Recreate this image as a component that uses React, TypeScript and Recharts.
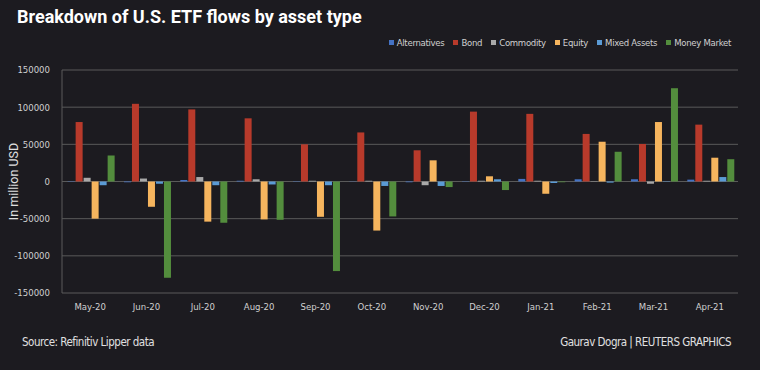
import React from 'react';
import { BarChart, Bar, CartesianGrid, XAxis, YAxis } from 'recharts';

const months = ['May-20', 'Jun-20', 'Jul-20', 'Aug-20', 'Sep-20', 'Oct-20', 'Nov-20', 'Dec-20', 'Jan-21', 'Feb-21', 'Mar-21', 'Apr-21'];

const alternatives = [-500, -1000, 2000, 1000, 500, 300, -1000, 500, 3500, 3000, 3000, 2500];
const bond = [80000, 104500, 97000, 85000, 50000, 66000, 42000, 94000, 91000, 64000, 50500, 76500];
const commodity = [5000, 4000, 6000, 3000, 1000, 1000, -5000, 1000, 1000, 500, -3000, 1000];
const equity = [-50000, -34000, -54000, -51000, -47500, -66000, 28500, 7000, -16500, 53500, 80000, 32000];
const mixedAssets = [-5000, -3000, -5000, -4000, -5000, -6000, -6000, 3000, -2000, -1500, 500, 6000];
const moneyMarket = [35000, -129500, -55500, -51500, -120500, -47000, -7500, -11500, -1000, 40000, 125500, 30000];

const yTicks = [-150000, -100000, -50000, 0, 50000, 100000, 150000];

const series = [
  { key: 'alternatives', name: 'Alternatives', color: '#4472c4' },
  { key: 'bond', name: 'Bond', color: '#b83a2b' },
  { key: 'commodity', name: 'Commodity', color: '#a9a9a9' },
  { key: 'equity', name: 'Equity', color: '#f6b55e' },
  { key: 'mixedAssets', name: 'Mixed Assets', color: '#5b9bd5' },
  { key: 'moneyMarket', name: 'Money Market', color: '#538d3d' },
];

const data = months.map((month, i) => ({
  month,
  alternatives: alternatives[i],
  bond: bond[i],
  commodity: commodity[i],
  equity: equity[i],
  mixedAssets: mixedAssets[i],
  moneyMarket: moneyMarket[i],
}));

const tickFont = "'DejaVu Sans Condensed', 'Roboto', sans-serif";
const textFont = "'Roboto', 'Noto Sans', sans-serif";

export default function App() {
  return (
    <div style={{ position: 'relative', width: 760, height: 370, background: '#1c1b20', overflow: 'hidden' }}>
      <style>{`body{margin:0}`}</style>
      <div style={{ position: 'absolute', left: 17, top: 6, color: '#ffffff', fontFamily: textFont, fontWeight: 700, fontSize: 18 }}>
        Breakdown of U.S. ETF flows by asset type
      </div>
      <div style={{ position: 'absolute', right: 29, top: 37, display: 'flex', fontFamily: tickFont, fontSize: 9.5, letterSpacing: -0.3, color: '#d0d0d0' }}>
        {series.map((s) => (
          <span key={s.key} style={{ display: 'flex', alignItems: 'center', marginLeft: 9 }}>
            <span style={{ width: 5, height: 5, background: s.color, marginRight: 3, display: 'inline-block' }} />
            {s.name}
          </span>
        ))}
      </div>
      <BarChart
        width={760}
        height={370}
        data={data}
        margin={{ top: 70, right: 22, bottom: 47, left: 12 }}
        barCategoryGap="10%"
        barGap={1}
        style={{ position: 'absolute', left: 0, top: 0 }}
      >
        <CartesianGrid vertical={false} stroke="#5a5a5a" yAxisId="left" />
        <XAxis
          dataKey="month"
          axisLine={false}
          tickLine={false}
          tickMargin={4}
          interval={0}
          tick={{ fill: '#d0d0d0', fontSize: 9.5, fontFamily: tickFont }}
        />
        <YAxis
          yAxisId="left"
          domain={[-150000, 150000]}
          ticks={yTicks}
          width={50}
          axisLine={{ stroke: '#5a5a5a' }}
          tickLine={false}
          tickMargin={6}
          tick={{ fill: '#d0d0d0', fontSize: 9.5, fontFamily: tickFont }}
          label={{ value: 'In million USD', angle: -90, position: 'insideLeft', offset: 2, fill: '#e0e0e0', fontSize: 12.5, fontFamily: textFont, style: { textAnchor: 'middle' } }}
        />
        <YAxis yAxisId="right" orientation="right" domain={[-150000, 150000]} width={0} tick={false} tickLine={false} axisLine={{ stroke: '#5a5a5a' }} />
        {series.map((s) => (
          <Bar key={s.key} yAxisId="left" dataKey={s.key} name={s.name} fill={s.color} isAnimationActive={false} />
        ))}
      </BarChart>
      <div style={{ position: 'absolute', left: 22, top: 335, color: '#e0e0e0', fontFamily: tickFont, fontSize: 11.5, letterSpacing: -0.5 }}>
        Source: Refinitiv Lipper data
      </div>
      <div style={{ position: 'absolute', right: 29, top: 335, color: '#e0e0e0', fontFamily: tickFont, fontSize: 11.5, letterSpacing: -0.5 }}>
        Gaurav Dogra | REUTERS GRAPHICS
      </div>
    </div>
  );
}
